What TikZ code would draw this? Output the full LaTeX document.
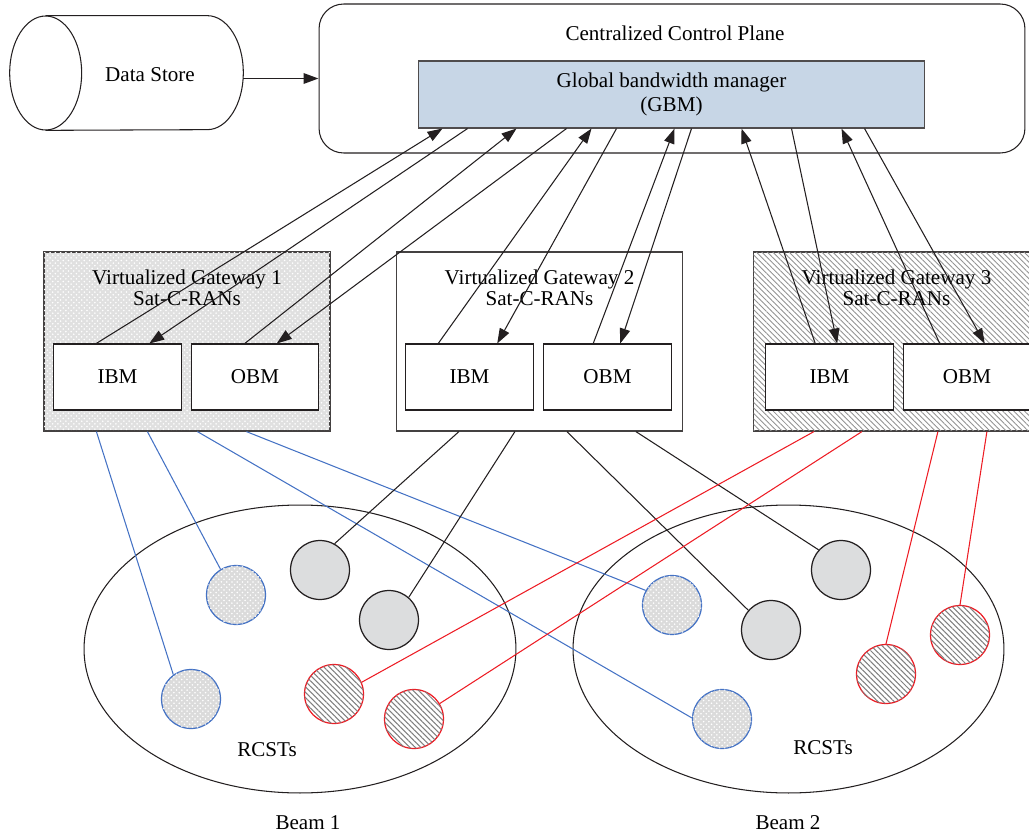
\documentclass[tikz,border=0pt]{standalone}
\usepackage{fontspec}
\setmainfont{Liberation Serif}
\usetikzlibrary{arrows.meta,positioning,shapes.geometric,calc,patterns,patterns.meta}
\definecolor{ink}{RGB}{35,31,32}
\definecolor{gbmblue}{RGB}{199,214,230}
\definecolor{termgray}{RGB}{220,221,222}
\definecolor{beamblue}{RGB}{68,114,196}
\definecolor{beamred}{RGB}{237,28,36}
\newcommand\diagfont{\fontsize{12}{12}\selectfont}
\tikzset{
  >={Triangle[length=3mm,width=2.1mm]},
  plane/.style={draw=ink,line width=0.6pt,rounded corners=14pt,
    minimum width=14.12cm,minimum height=2.98cm},
  mgr/.style={draw=ink!80,line width=0.6pt,fill=gbmblue,align=center,
    font=\fontsize{12}{13.6}\selectfont,minimum width=10.14cm,minimum height=1.34cm},
  store/.style={inner sep=0pt,minimum width=3.22cm,minimum height=2.28cm},
  gateway/.style={draw=ink!85,line width=0.7pt,minimum width=5.72cm,minimum height=3.58cm},
  gwdots/.style={fill=black!12,postaction={pattern=crosshatch dots,pattern color=white}},
  gwopen/.style={fill=white},
  gwlines/.style={fill=white,postaction={pattern={Lines[angle=-45,distance=2.2pt,line width=0.5pt]},pattern color=gray!85}},
  unit/.style={draw=ink,line width=0.6pt,fill=white,minimum width=2.55cm,minimum height=1.32cm},
  flow/.style={->,draw=ink,line width=0.6pt},
  feed/.style={->,draw=ink,line width=1pt},
  beam/.style={ellipse,draw=ink,line width=0.6pt,minimum height=5.76cm},
  link/.style={draw=#1,line width=0.6pt},
  link/.default=ink,
  term/.style={circle,minimum size=1.18cm,inner sep=0pt,line width=0.7pt},
  tblue/.style={term,draw=beamblue,fill=black!14,postaction={pattern=crosshatch dots,pattern color=white}},
  tgray/.style={term,draw=ink,fill=termgray},
  tred/.style={term,draw=beamred,fill=white,postaction={pattern={Lines[angle=-45,distance=2.2pt,line width=0.6pt]},pattern color=gray}},
}
\begin{document}
\begin{tikzpicture}[x=0.02cm,y=-0.02cm,font=\diagfont]
  \useasboundingbox (0,0) rectangle (1029,835);
  \clip (0,0) rectangle (1029,835);
  % control plane and data store
  \node[plane] (cp) at (672,78.5) {};
  \node (cptitle) at (675,33) {Centralized Control Plane};
  \node[mgr] (gbm) at (671.5,94.5) {Global bandwidth manager\\(GBM)};
  \node[store] (ds) at (126.5,73) {};
  \draw[ink,line width=0.6pt] (ds.west) ellipse [x radius=36,y radius=57];
  \draw[ink,line width=0.6pt] (ds.north west) -- (ds.north east)
    arc[start angle=-90,end angle=90,x radius=36,y radius=57] -- (ds.south west);
  \node (dslabel) at (150,75) {Data Store};
  \draw[feed] ([xshift=0.72cm]cp.west -| ds.east) -- (cp.west);
  % beams
  \node[beam,minimum width=8.64cm] (beam1) at (300,649) {};
  \node[beam,minimum width=8.62cm] (beam2) at (788.5,649) {};
  \node (rcst1) at (267,750) {RCSTs};
  \node (rcst2) at (823,748) {RCSTs};
  \node (lbeam1) at (308,823) {Beam 1};
  \node (lbeam2) at (788,823) {Beam 2};
  % gateways
  \foreach \g/\x/\st in {1/187/gwdots,2/539.5/gwopen,3/896.5/gwlines}{
    \node[gateway,\st] (gw\g) at (\x,341.5) {};
    \node[align=center] (gwt\g) at ($(gw\g.north)+(0,36)$) {Virtualized Gateway \g\\Sat-C-RANs};
  }
  \foreach \n/\t/\x in {ibm1/IBM/117.5,obm1/OBM/255,ibm2/IBM/469.5,obm2/OBM/607.5,ibm3/IBM/829.5,obm3/OBM/967}
    \node[unit] (\n) at (\x,377) {\t};
  % up and down links to the GBM
  \foreach \u/\a/\b/\c/\d in {ibm1/43/25/50/96,obm1/54/99/149/86,ibm2/33/174/199/92,
      obm2/50/257/274/77,ibm3/50/324/374/72,obm3/37/424/447/82}{
    \draw[flow] ($(\u.north west)+(\a,0)$) -- ($(gbm.south west)+(\b,0)$);
    \draw[flow] ($(gbm.south west)+(\c,0)$) -- ($(\u.north west)+(\d,0)$);
  }
  % terminals
  \foreach \n/\x/\y/\k in {bl1/191/699/tblue,bl2/236/595/tblue,bl3/722/719/tblue,bl4/672/605/tblue,
      gr1/320/570/tgray,gr2/389/620/tgray,gr3/771/630/tgray,gr4/841/570/tgray,
      rd1/334/694/tred,rd2/414/719/tred,rd3/886/674/tred,rd4/960/635/tred}
    \node[\k] (\n) at (\x,\y) {};
  \foreach \o/\t/\a in {53/bl1/126,104/bl2/121,154/bl3/178,203/bl4/151}
    \draw[link=beamblue] ($(gw1.south west)+(\o,0)$) -- (\t.\a);
  \foreach \o/\t/\a in {63/gr1/61,119/gr2/49,171/gr3/139,240/gr4/138}
    \draw[link] ($(gw2.south west)+(\o,0)$) -- (\t.\a);
  \foreach \o/\t/\a in {61/rd1/23,109/rd2/31,185/rd3/90,234/rd4/90}
    \draw[link=beamred] ($(gw3.south west)+(\o,0)$) -- (\t.\a);
\end{tikzpicture}
\end{document}
